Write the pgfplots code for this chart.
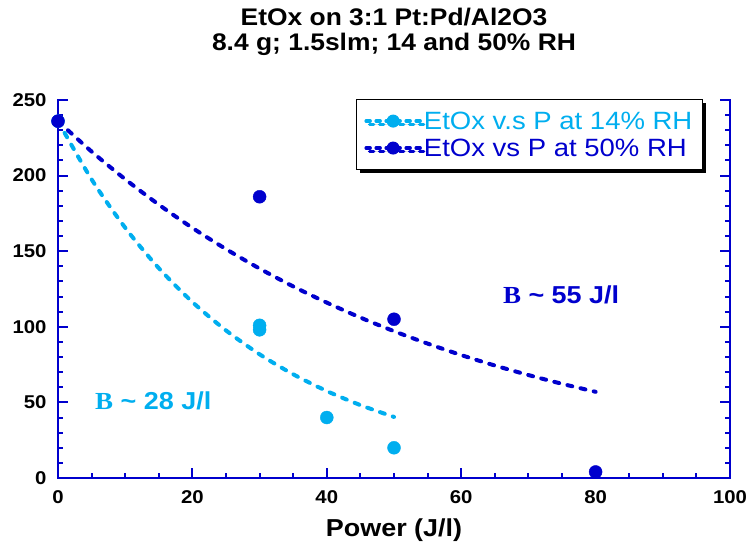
\documentclass[border=0pt]{standalone}
\usepackage{pgfplots}
\pgfplotsset{compat=1.18}
\usepackage{fontspec}
\setmainfont{Liberation Sans}[FakeStretch=1.1]
\newfontfamily\serifB{Liberation Serif}[FakeStretch=1.1]
\usetikzlibrary{shadows}
\definecolor{db}{RGB}{0,0,205}
\definecolor{lb}{RGB}{0,174,239}
\tikzset{fitline/.style={line width=4pt, line cap=round, dash pattern=on 5pt off 8.5pt}}
\begin{document}
\begin{tikzpicture}
\path[use as bounding box] (-58pt,-70pt) rectangle (691pt,478pt);
\begin{axis}[
  at={(0pt,0pt)}, anchor=south west,
  scale only axis, width=672pt, height=378pt,
  xmin=0, xmax=100, ymin=0, ymax=250,
  axis x line*=bottom, axis y line*=box,
  axis line style={db, line width=2.6pt, line cap=rect},
  every tick/.style={db, line width=2pt},
  tick align=inside,
  major tick length=10pt, minor tick length=5pt,
  xtick={0,20,...,100}, ytick={0,50,...,250},
  minor x tick num=3, minor y tick num=4,
  yticklabel pos=left,
  /pgf/number format/assume math mode=true,
  ticklabel style={font=\fontsize{18.5}{20}\selectfont\bfseries},
  xticklabel style={yshift=-9pt},
  yticklabel style={xshift=-8pt},
  xlabel={Power (J/l)},
  xlabel style={font=\fontsize{24.5}{28}\selectfont\bfseries, at={(axis description cs:0.5,-0.156)}, anchor=base},
  clip=false,
  legend cell align=left,
  legend image code/.code={%
    \draw[mark repeat=2,mark phase=2,#1] plot coordinates {(0pt,0pt) (27pt,0pt) (54pt,0pt)};},
  legend style={at={(0.96,1.003)}, anchor=north east, draw=black, line width=1.5pt, fill=white,
    font=\fontsize{25}{28}\selectfont, row sep=4pt, inner xsep=8pt, inner ysep=10pt,
    /tikz/every even column/.append style={column sep=2pt},
    drop shadow={opacity=1, shadow xshift=3.5pt, shadow yshift=-3.5pt, fill=black}},
]
\addlegendimage{lb, line width=3.5pt, line cap=round, dash pattern=on 4pt off 6pt, mark=*, mark size=6pt, mark options={solid, line width=1pt}}
\addlegendentry{\textcolor{lb}{EtOx v.s P at 14\% RH}}
\addlegendimage{db, line width=3.5pt, line cap=round, dash pattern=on 4pt off 6pt, mark=*, mark size=6pt, mark options={solid, line width=1pt}}
\addlegendentry{\textcolor{db}{EtOx vs P at 50\% RH}}
% fitted curves
\addplot[lb, fitline, smooth, forget plot] coordinates {(0,236)(5,197.5)(10,165.5)(15,138.8)(20,116.4)(25,97.6)(30,81.8)(35,68.6)(40,57.5)(45,48.2)(50,40.4)};
\addplot[db, fitline, smooth, forget plot] coordinates {(0,236)(5,215.9)(10,197.6)(15,180.8)(20,165.4)(25,151.4)(30,138.5)(35,126.7)(40,116.0)(45,106.1)(50,97.1)(55,88.9)(60,81.3)(65,74.4)(70,68.1)(75,62.3)(80,57.0)};
% data
\addplot[only marks, mark=*, mark size=6.5pt, color=lb, forget plot] coordinates {(0,236)(30,101)(30,98)(40,40)(50,20)};
\addplot[only marks, mark=*, mark size=6.5pt, color=db, forget plot] coordinates {(0,236)(30,186)(50,105)(80,4)};
\node[anchor=base west, text=lb, font=\fontsize{24.5}{28}\selectfont\bfseries, inner sep=0pt] at (axis cs:5.5,45) {{\serifB B} \textasciitilde{} 28 J/l};
\node[anchor=base west, text=db, font=\fontsize{24.5}{28}\selectfont\bfseries, inner sep=0pt] at (axis cs:66.2,115.7) {{\serifB B} \textasciitilde{} 55 J/l};
\end{axis}
\node[anchor=base, font=\fontsize{24}{28}\selectfont\bfseries] at (336pt,452pt) {EtOx on 3:1 Pt:Pd/Al2O3};
\node[anchor=base, font=\fontsize{24}{28}\selectfont\bfseries] at (336pt,427pt) {8.4 g; 1.5slm; 14 and 50\% RH};
\end{tikzpicture}
\end{document}
